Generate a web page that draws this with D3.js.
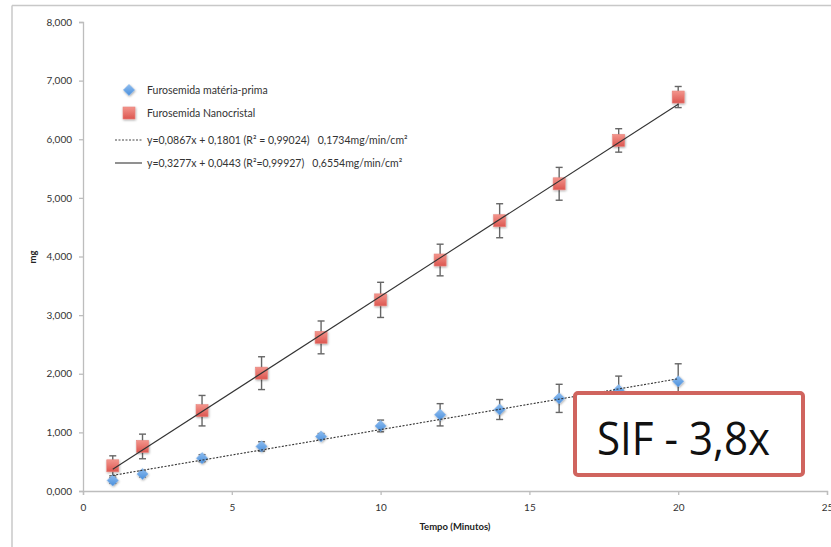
<!DOCTYPE html>
<meta charset="utf-8">
<body style="margin:0;background:#fff">
<script src="https://cdn.jsdelivr.net/npm/d3@7"></script>
<div id="chart"></div>
<script>
  // data (mg vs minutes)
  var tempo = [1, 2, 4, 6, 8, 10, 12, 14, 16, 18, 20];
  var materia = [0.18, 0.29, 0.56, 0.76, 0.93, 1.11, 1.30, 1.39, 1.58, 1.72, 1.87];
  var materiaErr = [0.05, 0.05, 0.06, 0.08, 0.05, 0.10, 0.19, 0.17, 0.24, 0.24, 0.30];
  var nano = [0.43, 0.76, 1.37, 2.01, 2.62, 3.26, 3.94, 4.61, 5.24, 5.98, 6.72];
  var nanoErr = [0.17, 0.21, 0.26, 0.28, 0.28, 0.30, 0.27, 0.29, 0.28, 0.20, 0.18];
  var xTicks = [0, 5, 10, 15, 20, 25];
  var yTicks = [0, 1, 2, 3, 4, 5, 6, 7, 8];
  // linear fits
  var fitMateria = {a: 0.0867, b: 0.1801};
  var fitNano = {a: 0.3277, b: 0.0443};
  var legendLabels = [
    "Furosemida matéria-prima",
    "Furosemida Nanocristal",
    "y=0,0867x + 0,1801 (R² = 0,99024)   0,1734mg/min/cm²",
    "y=0,3277x + 0,0443 (R²=0,99927)   0,6554mg/min/cm²"
  ];

  var width = 831, height = 547;
  var font = "Lato, 'Open Sans', sans-serif";

  var svg = d3.select("#chart").append("svg")
      .attr("width", width).attr("height", height)
      .style("font-family", font);

  var defs = svg.append("defs");
  var sh = defs.append("filter").attr("id", "shadow")
      .attr("x", "-50%").attr("y", "-50%").attr("width", "200%").attr("height", "200%");
  sh.append("feDropShadow").attr("dx", 0.6).attr("dy", 1).attr("stdDeviation", 0.8)
    .attr("flood-color", "#000").attr("flood-opacity", 0.35);
  var gr = defs.append("linearGradient").attr("id", "redg").attr("x1", 0).attr("y1", 0).attr("x2", 0).attr("y2", 1);
  gr.append("stop").attr("offset", "0%").attr("stop-color", "#f3958c");
  gr.append("stop").attr("offset", "100%").attr("stop-color", "#dc5650");
  var gb = defs.append("linearGradient").attr("id", "blueg").attr("x1", 0).attr("y1", 0).attr("x2", 0).attr("y2", 1);
  gb.append("stop").attr("offset", "0%").attr("stop-color", "#8dbdf0");
  gb.append("stop").attr("offset", "100%").attr("stop-color", "#4a8fdc");

  // slide frame lines
  svg.append("line").attr("x1", 12).attr("x2", width).attr("y1", 5.5).attr("y2", 5.5)
     .attr("stroke", "#c8c8c8").attr("stroke-width", 1.5);
  svg.append("line").attr("x1", 12).attr("x2", 12).attr("y1", 5.5).attr("y2", height)
     .attr("stroke", "#c8c8c8").attr("stroke-width", 1.5);

  var x = d3.scaleLinear().domain([0, 25]).range([83, 827]);
  var y = d3.scaleLinear().domain([0, 8]).range([491, 22]);

  var loc = d3.formatLocale({decimal: ",", thousands: ".", grouping: [3], currency: ["", ""]});
  var fmtY = loc.format(".3f");

  var yAxis = svg.append("g").attr("transform", "translate(" + x(0) + ",0)")
      .call(d3.axisLeft(y).tickValues(yTicks).tickFormat(fmtY).tickSize(4).tickPadding(7));
  var xAxis = svg.append("g").attr("transform", "translate(0," + y(0) + ")")
      .call(d3.axisBottom(x).tickValues(xTicks).tickFormat(d3.format("d")).tickSize(4).tickPadding(9));
  [xAxis, yAxis].forEach(function(a) {
    a.select(".domain").attr("stroke", "#bdbdbd").attr("stroke-width", 1.3);
    a.selectAll(".tick line").attr("stroke", "#bdbdbd").attr("stroke-width", 1.3);
    a.selectAll(".tick text").attr("fill", "#333").style("font-size", "10px").style("font-family", font);
  });

  svg.append("text").attr("x", 455).attr("y", 530).attr("text-anchor", "middle")
     .style("font-size", "9.5px").style("font-weight", "bold").attr("fill", "#222")
     .text("Tempo (Minutos)");
  svg.append("text").attr("transform", "translate(36,257) rotate(-90)").attr("text-anchor", "middle")
     .style("font-size", "9.5px").style("font-weight", "bold").attr("fill", "#222")
     .text("mg");

  var series = [
    {vals: materia, err: materiaErr, kind: "diamond"},
    {vals: nano, err: nanoErr, kind: "square"}
  ];

  // error bars
  series.forEach(function(s) {
    var g = svg.append("g").attr("stroke", "#666").attr("stroke-width", 1.4);
    tempo.forEach(function(t, i) {
      var cx = x(t), y1 = y(s.vals[i] + s.err[i]), y2 = y(s.vals[i] - s.err[i]);
      g.append("line").attr("x1", cx).attr("x2", cx).attr("y1", y1).attr("y2", y2);
      g.append("line").attr("x1", cx - 3.5).attr("x2", cx + 3.5).attr("y1", y1).attr("y2", y1);
      g.append("line").attr("x1", cx - 3.5).attr("x2", cx + 3.5).attr("y1", y2).attr("y2", y2);
    });
  });

  function drawMarker(g, kind, cx, cy) {
    if (kind === "square") {
      g.append("rect").attr("x", cx - 6).attr("y", cy - 6).attr("width", 12).attr("height", 12)
       .attr("fill", "url(#redg)").attr("stroke", "#e9847d").attr("stroke-width", 0.6)
       .attr("filter", "url(#shadow)");
    } else {
      g.append("path").attr("d", d3.symbol().type(d3.symbolDiamond2).size(80)())
       .attr("transform", "translate(" + cx + "," + cy + ")")
       .attr("fill", "url(#blueg)").attr("stroke", "#7fb0e8").attr("stroke-width", 0.6)
       .attr("filter", "url(#shadow)");
    }
  }

  series.forEach(function(s) {
    var g = svg.append("g");
    tempo.forEach(function(t, i) { drawMarker(g, s.kind, x(t), y(s.vals[i])); });
  });

  // trend lines
  var x0 = d3.min(tempo), x1 = d3.max(tempo);
  svg.append("line")
     .attr("x1", x(x0)).attr("y1", y(fitMateria.a * x0 + fitMateria.b))
     .attr("x2", x(x1)).attr("y2", y(fitMateria.a * x1 + fitMateria.b))
     .attr("stroke", "#333").attr("stroke-width", 1.1).attr("stroke-dasharray", "2,1.5");
  svg.append("line")
     .attr("x1", x(x0)).attr("y1", y(fitNano.a * x0 + fitNano.b))
     .attr("x2", x(x1)).attr("y2", y(fitNano.a * x1 + fitNano.b))
     .attr("stroke", "#333").attr("stroke-width", 1.1);

  // legend
  var lg = svg.append("g");
  var ly = [90, 113, 140, 163];
  drawMarker(lg, "diamond", 129, ly[0]);
  drawMarker(lg, "square", 129, ly[1]);
  lg.append("line").attr("x1", 115).attr("x2", 142).attr("y1", ly[2]).attr("y2", ly[2])
    .attr("stroke", "#444").attr("stroke-width", 1).attr("stroke-dasharray", "2,1.5");
  lg.append("line").attr("x1", 115).attr("x2", 142).attr("y1", ly[3]).attr("y2", ly[3])
    .attr("stroke", "#555").attr("stroke-width", 1.3);
  legendLabels.forEach(function(l, i) {
    lg.append("text").attr("x", 147).attr("y", ly[i] + 3.5)
      .style("font-size", "10.5px").style("white-space", "pre").attr("fill", "#333")
      .text(l);
  });

  // callout box
  svg.append("rect").attr("x", 575).attr("y", 393).attr("width", 228).attr("height", 82)
     .attr("rx", 3).attr("fill", "#fff").attr("stroke", "#d0645e").attr("stroke-width", 4);
  svg.append("text").attr("x", 597).attr("y", 455)
     .style("font-family", "'Open Sans', sans-serif").style("font-size", "45px").attr("fill", "#111")
     .attr("textLength", 173).attr("lengthAdjust", "spacingAndGlyphs")
     .text("SIF - 3,8x");
</script>
</body>
